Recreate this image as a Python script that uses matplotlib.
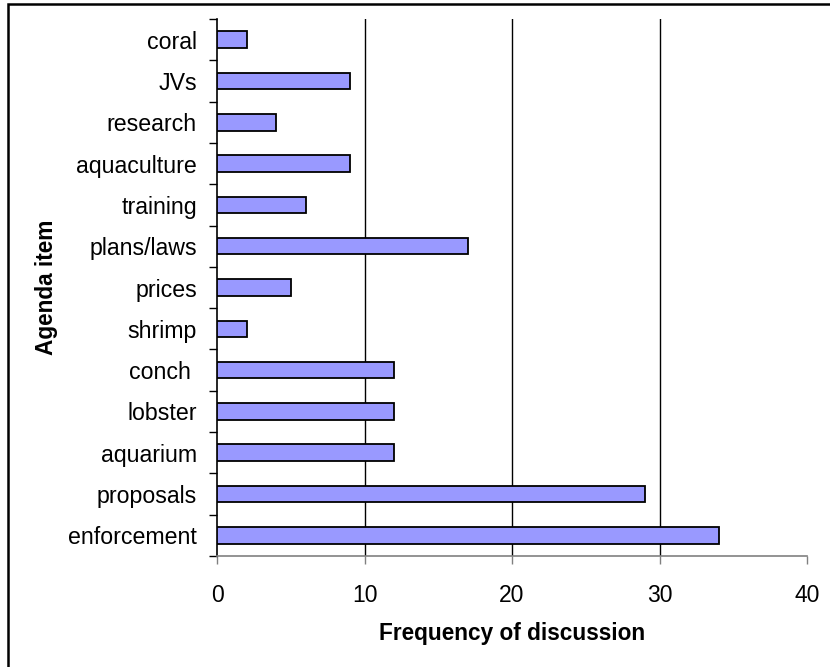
import numpy as np
import matplotlib
matplotlib.use("Agg")
import matplotlib.pyplot as plt
from matplotlib.patches import Rectangle

plt.rcParams['font.family'] = ['Liberation Sans', 'DejaVu Sans']

# agenda items, bottom to top
items = ["enforcement", "proposals", "aquarium", "lobster", "conch ", "shrimp",
         "prices", "plans/laws", "training", "aquaculture", "research", "JVs", "coral"]
counts = [34, 29, 12, 12, 12, 2, 5, 17, 6, 9, 4, 9, 2]
xticks = [0, 10, 20, 30, 40]

fig = plt.figure(figsize=(8.3, 6.67), dpi=100)
ax = fig.add_axes([217 / 830, 1 - 556 / 667, 590 / 830, 537 / 667])

# outer chart border (runs off the right and bottom edges)
fig.patches.append(Rectangle((7.5 / 830, -0.1), 1.2, 1 - 3.5 / 667 + 0.1,
                             transform=fig.transFigure, fill=False,
                             edgecolor="black", linewidth=1.8))

y = np.arange(len(items))
ax.barh(y, counts, height=0.4, color="#9999FF", edgecolor="black", linewidth=1.3, zorder=3)

ax.set_xlim(0, 40)
ax.set_ylim(-0.5, len(items) - 0.5)
ax.set_xticks(xticks)
ax.set_xticklabels([str(t) for t in xticks])
for t in xticks[1:-1]:
    ax.axvline(t, color="black", linewidth=1.0, zorder=1)

# category labels centred, tick marks on the boundaries
ax.set_yticks(y)
ax.set_yticklabels(items)
ax.set_yticks(np.arange(len(items) + 1) - 0.5, minor=True)
ax.tick_params(axis="y", which="major", length=0, pad=14.5, labelsize=16.7)
ax.tick_params(axis="y", which="minor", length=6, width=1, color="black")
ax.tick_params(axis="x", length=6, width=1, color="#808080", pad=14, labelsize=16.5)

for s in ["top", "right"]:
    ax.spines[s].set_visible(False)
ax.spines["left"].set_color("black")
ax.spines["bottom"].set_color("#808080")
ax.spines["left"].set_linewidth(1.2)
ax.spines["bottom"].set_linewidth(1.2)

ax.set_xlabel("Frequency of discussion", fontsize=16.3, fontweight="bold", labelpad=11)
ax.set_ylabel("Agenda item", fontsize=16.3, fontweight="bold")
ax.yaxis.set_label_coords(-0.27, 0.5)

fig.savefig("out.png", dpi=100)
